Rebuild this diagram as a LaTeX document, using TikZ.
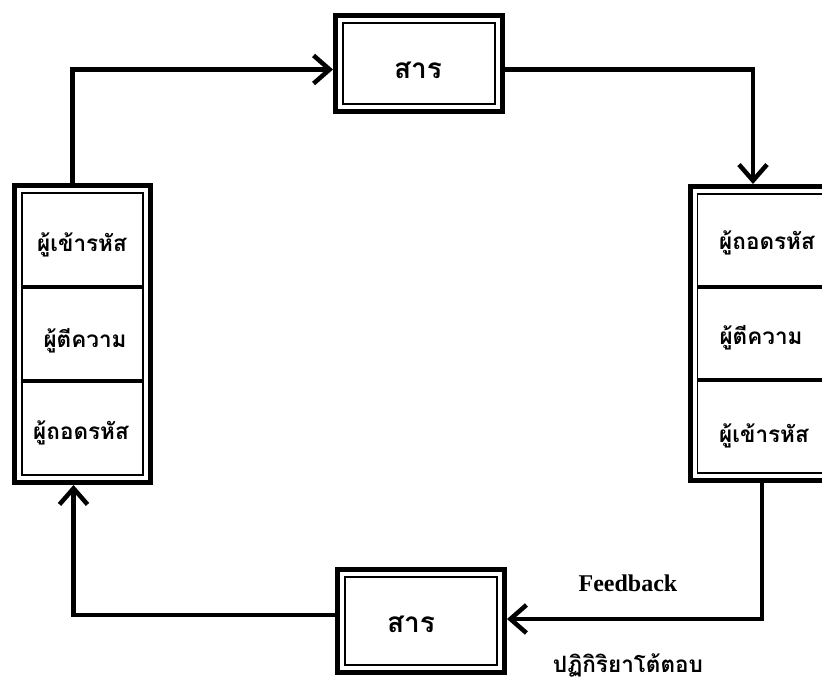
\documentclass[tikz,border=0pt]{standalone}
\usepackage{fontspec}
\setmainfont{Liberation Serif}
\newfontfamily\thaifont[Script=Thai]{Loma}
\usetikzlibrary{arrows.meta,calc}
\begin{document}
\begin{tikzpicture}[x=1pt,y=-1pt,
  box/.style={draw, line width=5pt, inner sep=0pt},
  innerline/.style={draw, line width=1.4pt},
  divider/.style={draw, line width=3.5pt},
  conn/.style={draw, line width=4.5pt, line join=miter, -{Straight Barb[length=16pt,width=28pt]}},
  thai/.style={font=\thaifont\bfseries\fontsize{22.5}{26}\selectfont, inner sep=0pt},
  msg/.style={font=\thaifont\bfseries\fontsize{28}{32}\selectfont, inner sep=0pt},
  eng/.style={font=\bfseries\fontsize{24}{28}\selectfont, inner sep=0pt}]
\useasboundingbox (0,0) rectangle (822,682);
\fill[white] (0,0) rectangle (822,682);

% boxes
\node[box, minimum width=167pt, minimum height=96pt] (T) at (419,63.5) {};
\node[box, minimum width=167pt, minimum height=103pt] (B) at (421,621) {};
\node[box, minimum width=136pt, minimum height=297pt] (L) at (82.5,334) {};
\node[box, minimum width=140pt, minimum height=294pt] (R) at (760,333.5) {};

% inner lines
\foreach \n in {T,B,L,R}{
  \coordinate (\n nw) at ([xshift=10pt,yshift=-10pt]\n.north west);
  \coordinate (\n se) at ([xshift=-10pt,yshift=10pt]\n.south east);
  \draw[innerline] (\n nw) rectangle (\n se);
}
\foreach \n in {L,R}{
  \coordinate (\n d1) at ($(\n nw)!1/3!(\n se)$);
  \coordinate (\n d2) at ($(\n nw)!2/3!(\n se)$);
  \draw[divider] (\n nw |- \n d1) -- (\n se |- \n d1);
  \draw[divider] (\n nw |- \n d2) -- (\n se |- \n d2);
}

% texts
\node[msg] (tT) at (418,70) {สาร};
\node[msg] (tB) at (411,624) {สาร};
\node[thai] (l1) at (82,245) {ผู้เข้ารหัส};
\node[thai] (l2) at (85,341) {ผู้ตีความ};
\node[thai] (l3) at (81,433) {ผู้ถอดรหัส};
\node[thai] (r1) at (767,243) {ผู้ถอดรหัส};
\node[thai] (r2) at (761,338) {ผู้ตีความ};
\node[thai] (r3) at (764,436) {ผู้เข้ารหัส};
\node[eng] (fb) at (628,583) {Feedback};
\node[thai] (fbt) at (628,665) {ปฏิกิริยาโต้ตอบ};

% connectors
\draw[conn] ([xshift=-10pt]L.north) |- ([yshift=-6pt]T.west);
\draw[conn] ([yshift=-6pt]T.east) -| ([xshift=-7pt]R.north);
\draw[conn] ([xshift=2pt]R.south) |- ([yshift=2pt]B.east);
\draw[conn] ([yshift=6pt]B.west) -| ([xshift=-9pt]L.south);
\end{tikzpicture}
\end{document}
